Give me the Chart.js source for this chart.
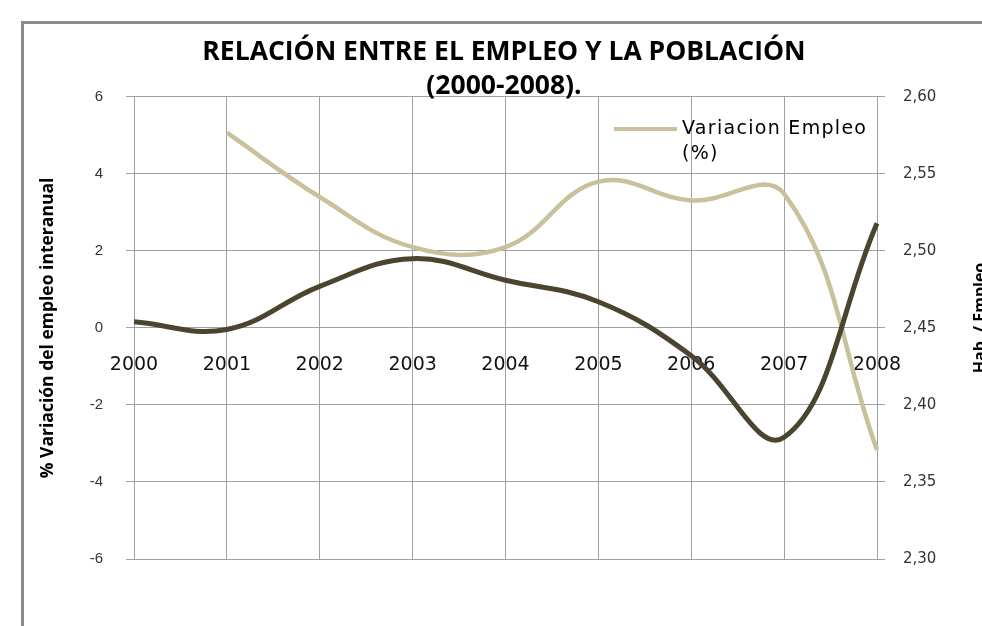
<!DOCTYPE html>
<html>
<head>
<meta charset="utf-8">
<script src="https://cdn.jsdelivr.net/npm/chart.js@4.4.0/dist/chart.umd.min.js"></script>
<style>
  html, body { margin: 0; padding: 0; background: #fff; overflow: hidden; }
</style>
</head>
<body>
<canvas id="grafico" width="982" height="626"></canvas>
<script>
// datos
const anos = ["2000", "2001", "2002", "2003", "2004", "2005", "2006", "2007", "2008"];
const variacionEmpleo = [null, 5.07, 3.40, 2.10, 2.10, 3.80, 3.31, 3.48, -3.17];
const habEmpleo = [2.454, 2.449, 2.477, 2.495, 2.481, 2.467, 2.432, 2.379, 2.518];
const ticksIzq = [-6, -4, -2, 0, 2, 4, 6];
const ticksDer = [2.30, 2.35, 2.40, 2.45, 2.50, 2.55, 2.60];
const etiquetaEmpleo = ["Variacion Empleo", "(%)"];

const colorClaro = "#c9c19b";
const colorOscuro = "#4b452f";
const colorRejilla = "#a0a0a0";

// marco, leyenda y titulo del eje derecho
const extras = {
    id: "extras",
    beforeDraw(chart) {
        const ctx = chart.ctx;
        ctx.save();
        ctx.strokeStyle = "#8c8c8c";
        ctx.lineWidth = 3;
        ctx.strokeRect(22.5, 22.5, 1200, 900);
        ctx.restore();
    },
    afterDraw(chart) {
        const ctx = chart.ctx;
        ctx.save();
        ctx.strokeStyle = colorClaro;
        ctx.lineWidth = 4;
        ctx.beginPath();
        ctx.moveTo(614, 129);
        ctx.lineTo(677, 129);
        ctx.stroke();

        ctx.fillStyle = "#000";
        ctx.font = '19px "DejaVu Sans"';
        ctx.textBaseline = "middle";
        ctx.letterSpacing = "1.3px";
        ctx.fillText(etiquetaEmpleo[0], 682, 129);
        ctx.fillText(etiquetaEmpleo[1], 682, 154);

        ctx.letterSpacing = "0px";
        ctx.translate(982, 318);
        ctx.rotate(-Math.PI / 2);
        ctx.font = 'bold 16px "Open Sans"';
        ctx.textAlign = "center";
        ctx.textBaseline = "top";
        ctx.fillText("Hab. / Empleo", 0, -10);
        ctx.restore();
    }
};

const ctx = document.getElementById("grafico").getContext("2d");
const myChart = new Chart(ctx, {
    type: "line",
    data: {
        labels: anos,
        datasets: [
            {
                label: "Hab. / Empleo",
                data: habEmpleo,
                yAxisID: "y1",
                borderColor: colorOscuro,
                borderWidth: 5,
                pointRadius: 0,
                tension: 0.4
            },
            {
                label: etiquetaEmpleo.join(" "),
                data: variacionEmpleo,
                yAxisID: "y",
                borderColor: colorClaro,
                borderWidth: 4.5,
                pointRadius: 0,
                tension: 0.4
            }
        ]
    },
    options: {
        responsive: false,
        animation: false,
        layout: {
            padding: { top: 35, left: 26, right: 0, bottom: 67 }
        },
        plugins: {
            legend: { display: false },
            tooltip: { enabled: false },
            title: {
                display: true,
                text: ["RELACIÓN ENTRE EL EMPLEO Y LA POBLACIÓN", "(2000-2008)."],
                color: "#000",
                font: { family: "Open Sans", size: 26.5, weight: "bold", lineHeight: 1.3 },
                padding: { top: 0, bottom: -7 }
            }
        },
        scales: {
            x: {
                type: "category",
                position: { y: 0 },
                offset: false,
                grid: { color: colorRejilla, drawTicks: false },
                border: { color: colorRejilla },
                ticks: {
                    color: "#111",
                    font: { family: "DejaVu Sans", size: 19 },
                    padding: 26,
                    maxRotation: 0,
                    autoSkip: false
                }
            },
            y: {
                position: "left",
                min: -6,
                max: 6,
                afterBuildTicks: (scale) => {
                    scale.ticks = ticksIzq.map(v => ({ value: v }));
                },
                afterFit: (scale) => { scale.width = 108; },
                grid: { color: colorRejilla, tickLength: 8 },
                border: { color: colorRejilla },
                ticks: {
                    color: "#333",
                    font: { family: "Liberation Sans", size: 15 },
                    padding: 23
                },
                title: {
                    display: true,
                    text: "% Variación del empleo interanual",
                    color: "#000",
                    font: { family: "Open Sans", size: 17.5, weight: "bold" },
                    padding: { top: 12, bottom: 0 }
                }
            },
            y1: {
                position: "right",
                min: 2.3,
                max: 2.6,
                afterBuildTicks: (scale) => {
                    scale.ticks = ticksDer.map(v => ({ value: v }));
                },
                afterFit: (scale) => { scale.width = 105; },
                grid: { drawOnChartArea: false, color: colorRejilla, tickLength: 8 },
                border: { color: colorRejilla },
                ticks: {
                    color: "#333",
                    font: { family: "DejaVu Sans", size: 15 },
                    padding: 18,
                    callback: (valor) => valor.toFixed(2).replace(".", ",")
                }
            }
        }
    },
    plugins: [extras]
});
</script>
</body>
</html>
